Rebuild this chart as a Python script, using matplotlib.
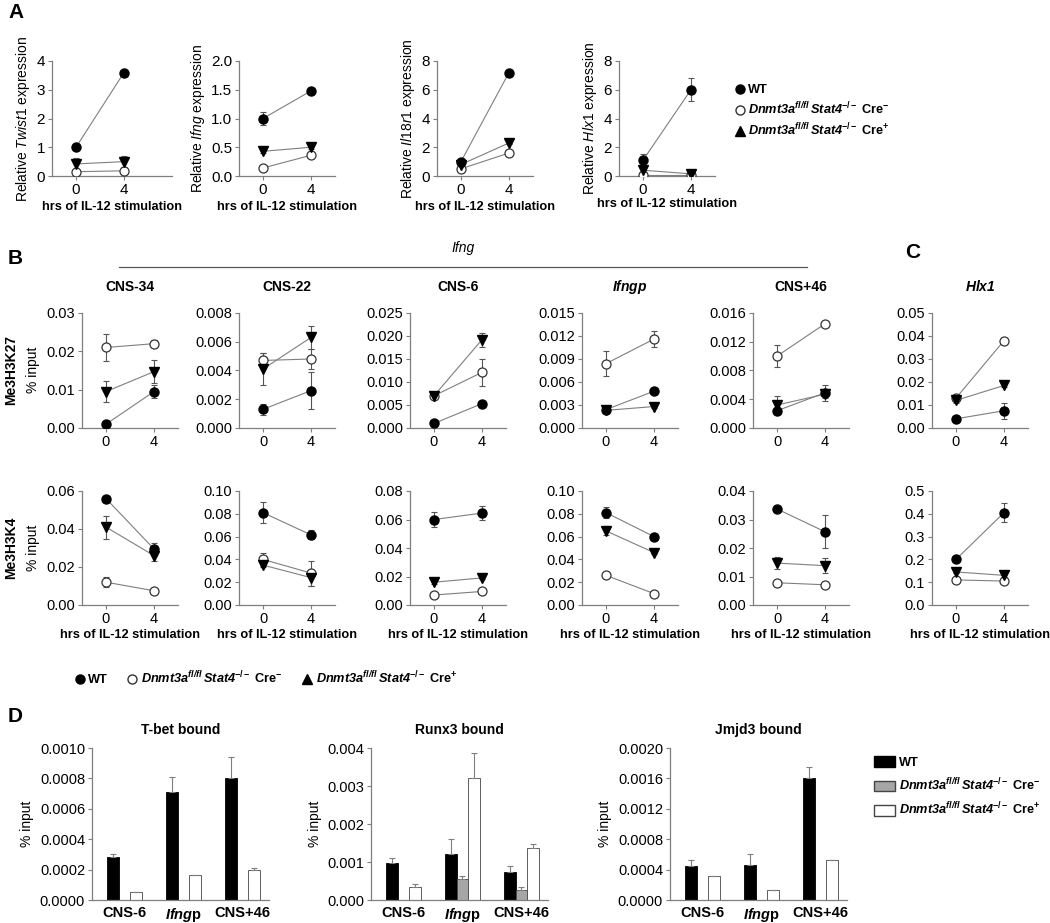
import matplotlib
matplotlib.use('Agg')
import matplotlib.pyplot as plt
from matplotlib.lines import Line2D
from matplotlib.patches import Patch
from matplotlib.ticker import FormatStrFormatter
import numpy as np

plt.rcParams['font.family'] = ['Liberation Sans', 'DejaVu Sans']
plt.rcParams['mathtext.fontset'] = 'custom'
plt.rcParams['mathtext.rm'] = 'Liberation Sans'
plt.rcParams['mathtext.it'] = 'Liberation Sans:italic'
plt.rcParams['mathtext.bf'] = 'Liberation Sans:bold'
plt.rcParams['mathtext.bfit'] = 'Liberation Sans:bold:italic'

# ---- data ----
hours = [0, 4]

# panel A: relative expression (WT, Cre-, Cre+)
a_genes = ['Twist1', 'Ifng', 'Il18r1', 'Hlx1']
a_wt = [[1.0, 3.6], [1.0, 1.48], [1.0, 7.2], [1.1, 6.0]]
a_wt_err = [[0.05, 0.05], [0.12, 0.03], [0.2, 0.1], [0.45, 0.8]]
a_neg = [[0.15, 0.18], [0.14, 0.36], [0.5, 1.6], [0.1, 0.1]]
a_neg_err = [[0.05, 0.05], [0.02, 0.04], [0.1, 0.1], [0.05, 0.05]]
a_pos = [[0.42, 0.5], [0.43, 0.5], [0.8, 2.3], [0.4, 0.15]]
a_pos_err = [[0.2, 0.2], [0.03, 0.03], [0.2, 0.1], [0.1, 0.05]]
a_ymax = [4, 2.0, 8, 8]
a_ystep = [1, 0.5, 2, 2]
a_yfmt = ['%d', '%.1f', '%d', '%d']

# panel B/C: ChIP time courses
b_titles = ['CNS-34', 'CNS-22', 'CNS-6', r'$\mathbfit{Ifngp}$', 'CNS+46', r'$\mathbfit{Hlx1}$']

k27_wt = [[0.001, 0.0095], [0.0013, 0.0026], [0.001, 0.0053],
          [0.0024, 0.0048], [0.0024, 0.0049], [0.004, 0.0075]]
k27_wt_err = [[0.0003, 0.0017], [0.0004, 0.0013], [0.0003, 0.0003],
              [0.0002, 0.0002], [0.0004, 0.0011], [0.0012, 0.0035]]
k27_neg = [[0.021, 0.022], [0.0047, 0.0048], [0.007, 0.0121],
           [0.0084, 0.0116], [0.0100, 0.0145], [0.013, 0.038]]
k27_neg_err = [[0.0035, 0.001], [0.0005, 0.0007], [0.0003, 0.0029],
               [0.0016, 0.001], [0.0015, 0.0003], [0.001, 0.001]]
k27_pos = [[0.0095, 0.0147], [0.0041, 0.0063], [0.007, 0.0192],
           [0.0023, 0.0028], [0.0032, 0.0047], [0.012, 0.0185]]
k27_pos_err = [[0.0027, 0.003], [0.0011, 0.0008], [0.0003, 0.0015],
               [0.0002, 0.0002], [0.0012, 0.0005], [0.001, 0.0005]]
k27_ymax = [0.03, 0.008, 0.025, 0.015, 0.016, 0.05]
k27_ystep = [0.01, 0.002, 0.005, 0.003, 0.004, 0.01]
k27_yfmt = ['%.2f', '%.3f', '%.3f', '%.3f', '%.3f', '%.2f']

k4_wt = [[0.056, 0.0295], [0.081, 0.0615], [0.060, 0.0645],
         [0.081, 0.060], [0.0337, 0.0257], [0.20, 0.405]]
k4_wt_err = [[0.001, 0.003], [0.009, 0.004], [0.005, 0.005],
             [0.005, 0.001], [0.001, 0.0058], [0.005, 0.042]]
k4_neg = [[0.012, 0.0075], [0.040, 0.028], [0.007, 0.0095],
          [0.026, 0.010], [0.0078, 0.0071], [0.11, 0.105]]
k4_neg_err = [[0.0025, 0.0005], [0.006, 0.011], [0.0005, 0.0005],
              [0.001, 0.001], [0.0005, 0.0005], [0.005, 0.005]]
k4_pos = [[0.041, 0.026], [0.035, 0.024], [0.016, 0.019],
          [0.065, 0.046], [0.0147, 0.0138], [0.145, 0.13]]
k4_pos_err = [[0.006, 0.003], [0.002, 0.007], [0.001, 0.001],
              [0.004, 0.001], [0.002, 0.0027], [0.005, 0.005]]
k4_ymax = [0.06, 0.10, 0.08, 0.10, 0.04, 0.5]
k4_ystep = [0.02, 0.02, 0.02, 0.02, 0.01, 0.1]
k4_yfmt = ['%.2f', '%.2f', '%.2f', '%.2f', '%.2f', '%.1f']

# panel D: bound factors (nan = no bar)
d_sites = ['CNS-6', r'$\mathbfit{Ifng}\mathbf{p}$', 'CNS+46']
d_titles = ['T-bet bound', 'Runx3 bound', 'Jmjd3 bound']
d_wt = [[0.00028, 0.00071, 0.00080], [0.00097, 0.0012, 0.00073], [0.00045, 0.00046, 0.00161]]
d_wt_err = [[0.00002, 0.0001, 0.00014], [0.00013, 0.0004, 0.00017], [0.00008, 0.00014, 0.00014]]
d_neg = [[np.nan, np.nan, np.nan], [np.nan, 0.00055, 0.00027], [np.nan, np.nan, np.nan]]
d_neg_err = [[0, 0, 0], [0, 0.00008, 0.00006], [0, 0, 0]]
d_pos = [[0.00005, 0.000165, 0.00020], [0.00035, 0.0032, 0.00137], [0.00032, 0.00013, 0.00053]]
d_pos_err = [[0, 0, 0.00001], [0.00006, 0.00067, 0.0001], [0, 0, 0]]
d_ymax = [0.0010, 0.004, 0.0020]
d_ystep = [0.0002, 0.001, 0.0004]
d_yfmt = ['%.4f', '%.3f', '%.4f']

lbl_neg = r'$\mathbfit{Dnmt3a}^{\mathbfit{fl/fl}}\,\mathbfit{Stat4}^{\mathbf{-/-}}\ \mathbf{Cre}^{\mathbf{-}}$'
lbl_pos = r'$\mathbfit{Dnmt3a}^{\mathbfit{fl/fl}}\,\mathbfit{Stat4}^{\mathbf{-/-}}\ \mathbf{Cre}^{\mathbf{+}}$'

# ---- figure ----
W, H = 1050, 923
fig = plt.figure(figsize=(W / 100, H / 100), dpi=100)
GRAY = '#7f7f7f'


def add_ax(left, top, width, height):
    return fig.add_axes([left / W, 1 - (top + height) / H, width / W, height / H])


def style_ax(ax, size=10.5):
    for s in ['top', 'right']:
        ax.spines[s].set_visible(False)
    for s in ['left', 'bottom']:
        ax.spines[s].set_color(GRAY)
        ax.spines[s].set_linewidth(0.9)
    ax.tick_params(direction='out', length=3, width=0.8, color=GRAY, labelsize=size, pad=2)


def set_y(ax, ymax, step, fmt):
    ax.set_ylim(0, ymax)
    ax.set_yticks(np.arange(0, ymax + step / 2, step))
    ax.yaxis.set_major_formatter(FormatStrFormatter(fmt))


def time_course(ax, wt, wt_err, neg, neg_err, pos, pos_err):
    for vals, err in [(wt, wt_err), (neg, neg_err), (pos, pos_err)]:
        ax.plot(hours, vals, color=GRAY, lw=0.8, zorder=1)
        ax.errorbar(hours, vals, yerr=err, fmt='none', ecolor='#555555',
                    elinewidth=0.8, capsize=2.5, capthick=0.8, zorder=2)
    ax.plot(hours, neg, 'o', ms=6.5, mfc='white', mec='#333333', mew=0.9, zorder=3)
    ax.plot(hours, pos, 'v', ms=7, color='black', zorder=4)
    ax.plot(hours, wt, 'o', ms=6.5, color='black', zorder=5)
    ax.set_xticks(hours)


# panel A
a_left = [52, 239, 437, 619]
a_width = [120, 96, 96, 96]
for i in range(4):
    ax = add_ax(a_left[i], 61, a_width[i], 115)
    time_course(ax, a_wt[i], a_wt_err[i], a_neg[i], a_neg_err[i], a_pos[i], a_pos_err[i])
    ax.set_xlim(-2, -2 + a_width[i] / 12)
    set_y(ax, a_ymax[i], a_ystep[i], a_yfmt[i])
    style_ax(ax, 11)
    ax.set_ylabel(r'Relative $\mathit{%s}$ expression' % a_genes[i], fontsize=10, labelpad=3)
    ax.set_xlabel('hrs of IL-12 stimulation', fontsize=9.2, fontweight='bold',
                  labelpad=1 if i == 3 else 3)

fig.legend(handles=[Line2D([], [], marker='o', ls='none', color='black', ms=6.5),
                    Line2D([], [], marker='o', ls='none', mfc='white', mec='#333333', ms=6.5),
                    Line2D([], [], marker='^', ls='none', color='black', ms=6.5)],
           labels=['WT', lbl_neg, lbl_pos], loc='upper left',
           bbox_to_anchor=(728 / W, 1 - 78 / H), frameon=False, handlelength=0.8,
           handletextpad=0.3, labelspacing=0.35, borderpad=0,
           prop=dict(size=9.2, weight='bold'))

# panels B and C
b_left = [82, 239, 410, 582, 753, 932]
for i in range(6):
    ax = add_ax(b_left[i], 313, 96, 115)
    time_course(ax, k27_wt[i], k27_wt_err[i], k27_neg[i], k27_neg_err[i], k27_pos[i], k27_pos_err[i])
    ax.set_xlim(-2, 6)
    set_y(ax, k27_ymax[i], k27_ystep[i], k27_yfmt[i])
    style_ax(ax)
    ax.set_title(b_titles[i], fontsize=10, fontweight='bold', pad=16)

    ax = add_ax(b_left[i], 491, 96, 114)
    time_course(ax, k4_wt[i], k4_wt_err[i], k4_neg[i], k4_neg_err[i], k4_pos[i], k4_pos_err[i])
    ax.set_xlim(-2, 6)
    set_y(ax, k4_ymax[i], k4_ystep[i], k4_yfmt[i])
    style_ax(ax)
    ax.set_xlabel('hrs of IL-12 stimulation', fontsize=9.2, fontweight='bold', labelpad=2)

for yc, mark in [(370, 'Me3H3K27'), (548, 'Me3H3K4')]:
    fig.text(11 / W, 1 - yc / H, mark, rotation=90, ha='center', va='center',
             fontsize=10, fontweight='bold')
    fig.text(33 / W, 1 - yc / H, '% input', rotation=90, ha='center', va='center', fontsize=10)

fig.add_artist(Line2D([119 / W, 807 / W], [1 - 267 / H, 1 - 267 / H], color='#555555', lw=0.9))
fig.text(463 / W, 1 - 248 / H, 'Ifng', ha='center', va='center', fontsize=10, style='italic')

fig.legend(handles=[Line2D([], [], marker='o', ls='none', color='black', ms=6.5),
                    Line2D([], [], marker='o', ls='none', mfc='white', mec='#333333', ms=6.5),
                    Line2D([], [], marker='^', ls='none', color='black', ms=6.5)],
           labels=['WT', lbl_neg, lbl_pos], loc='center left', ncol=3,
           bbox_to_anchor=(68 / W, 1 - 678 / H), frameon=False, handlelength=0.8,
           handletextpad=0.3, columnspacing=1.5, borderpad=0,
           prop=dict(size=9.2, weight='bold'))

# panel D
d_left = [92, 371, 670]
x = np.arange(3)
err_kw = dict(ecolor=GRAY, elinewidth=0.8, capsize=2.5, capthick=0.8)
for i in range(3):
    ax = add_ax(d_left[i], 748, 177, 152)
    ax.bar(x - 0.2, d_wt[i], 0.2, color='black', edgecolor='black', lw=0.6,
           yerr=[np.zeros(3), d_wt_err[i]], error_kw=err_kw)
    ax.bar(x, d_neg[i], 0.2, color='#a6a6a6', edgecolor='#444444', lw=0.6,
           yerr=[np.zeros(3), d_neg_err[i]], error_kw=err_kw)
    ax.bar(x + 0.2, d_pos[i], 0.2, color='white', edgecolor='#444444', lw=0.6,
           yerr=[np.zeros(3), d_pos_err[i]], error_kw=err_kw)
    ax.set_xlim(-0.55, 2.45)
    set_y(ax, d_ymax[i], d_ystep[i], d_yfmt[i])
    style_ax(ax)
    ax.set_xticks(x)
    ax.set_xticklabels(d_sites, fontweight='bold', fontsize=10.5)
    ax.tick_params(axis='x', length=0, pad=4)
    ax.set_ylabel('% input', fontsize=10, labelpad=4)
    ax.set_title(d_titles[i], fontsize=10, fontweight='bold', pad=10)

fig.legend(handles=[Patch(fc='black', ec='black'),
                    Patch(fc='#a6a6a6', ec='#444444'),
                    Patch(fc='white', ec='#444444')],
           labels=['WT', lbl_neg, lbl_pos], loc='upper left',
           bbox_to_anchor=(868 / W, 1 - 750 / H), frameon=False, handlelength=1.6,
           handleheight=0.9, handletextpad=0.3, labelspacing=0.6, borderpad=0,
           prop=dict(size=9.2, weight='bold'))

# panel letters
for px, py, letter in [(8, 12, 'A'), (8, 258, 'B'), (905, 253, 'C'), (8, 717, 'D')]:
    fig.text(px / W, 1 - py / H, letter, fontsize=15, fontweight='bold', va='center')

fig.savefig('out.png', dpi=100)
